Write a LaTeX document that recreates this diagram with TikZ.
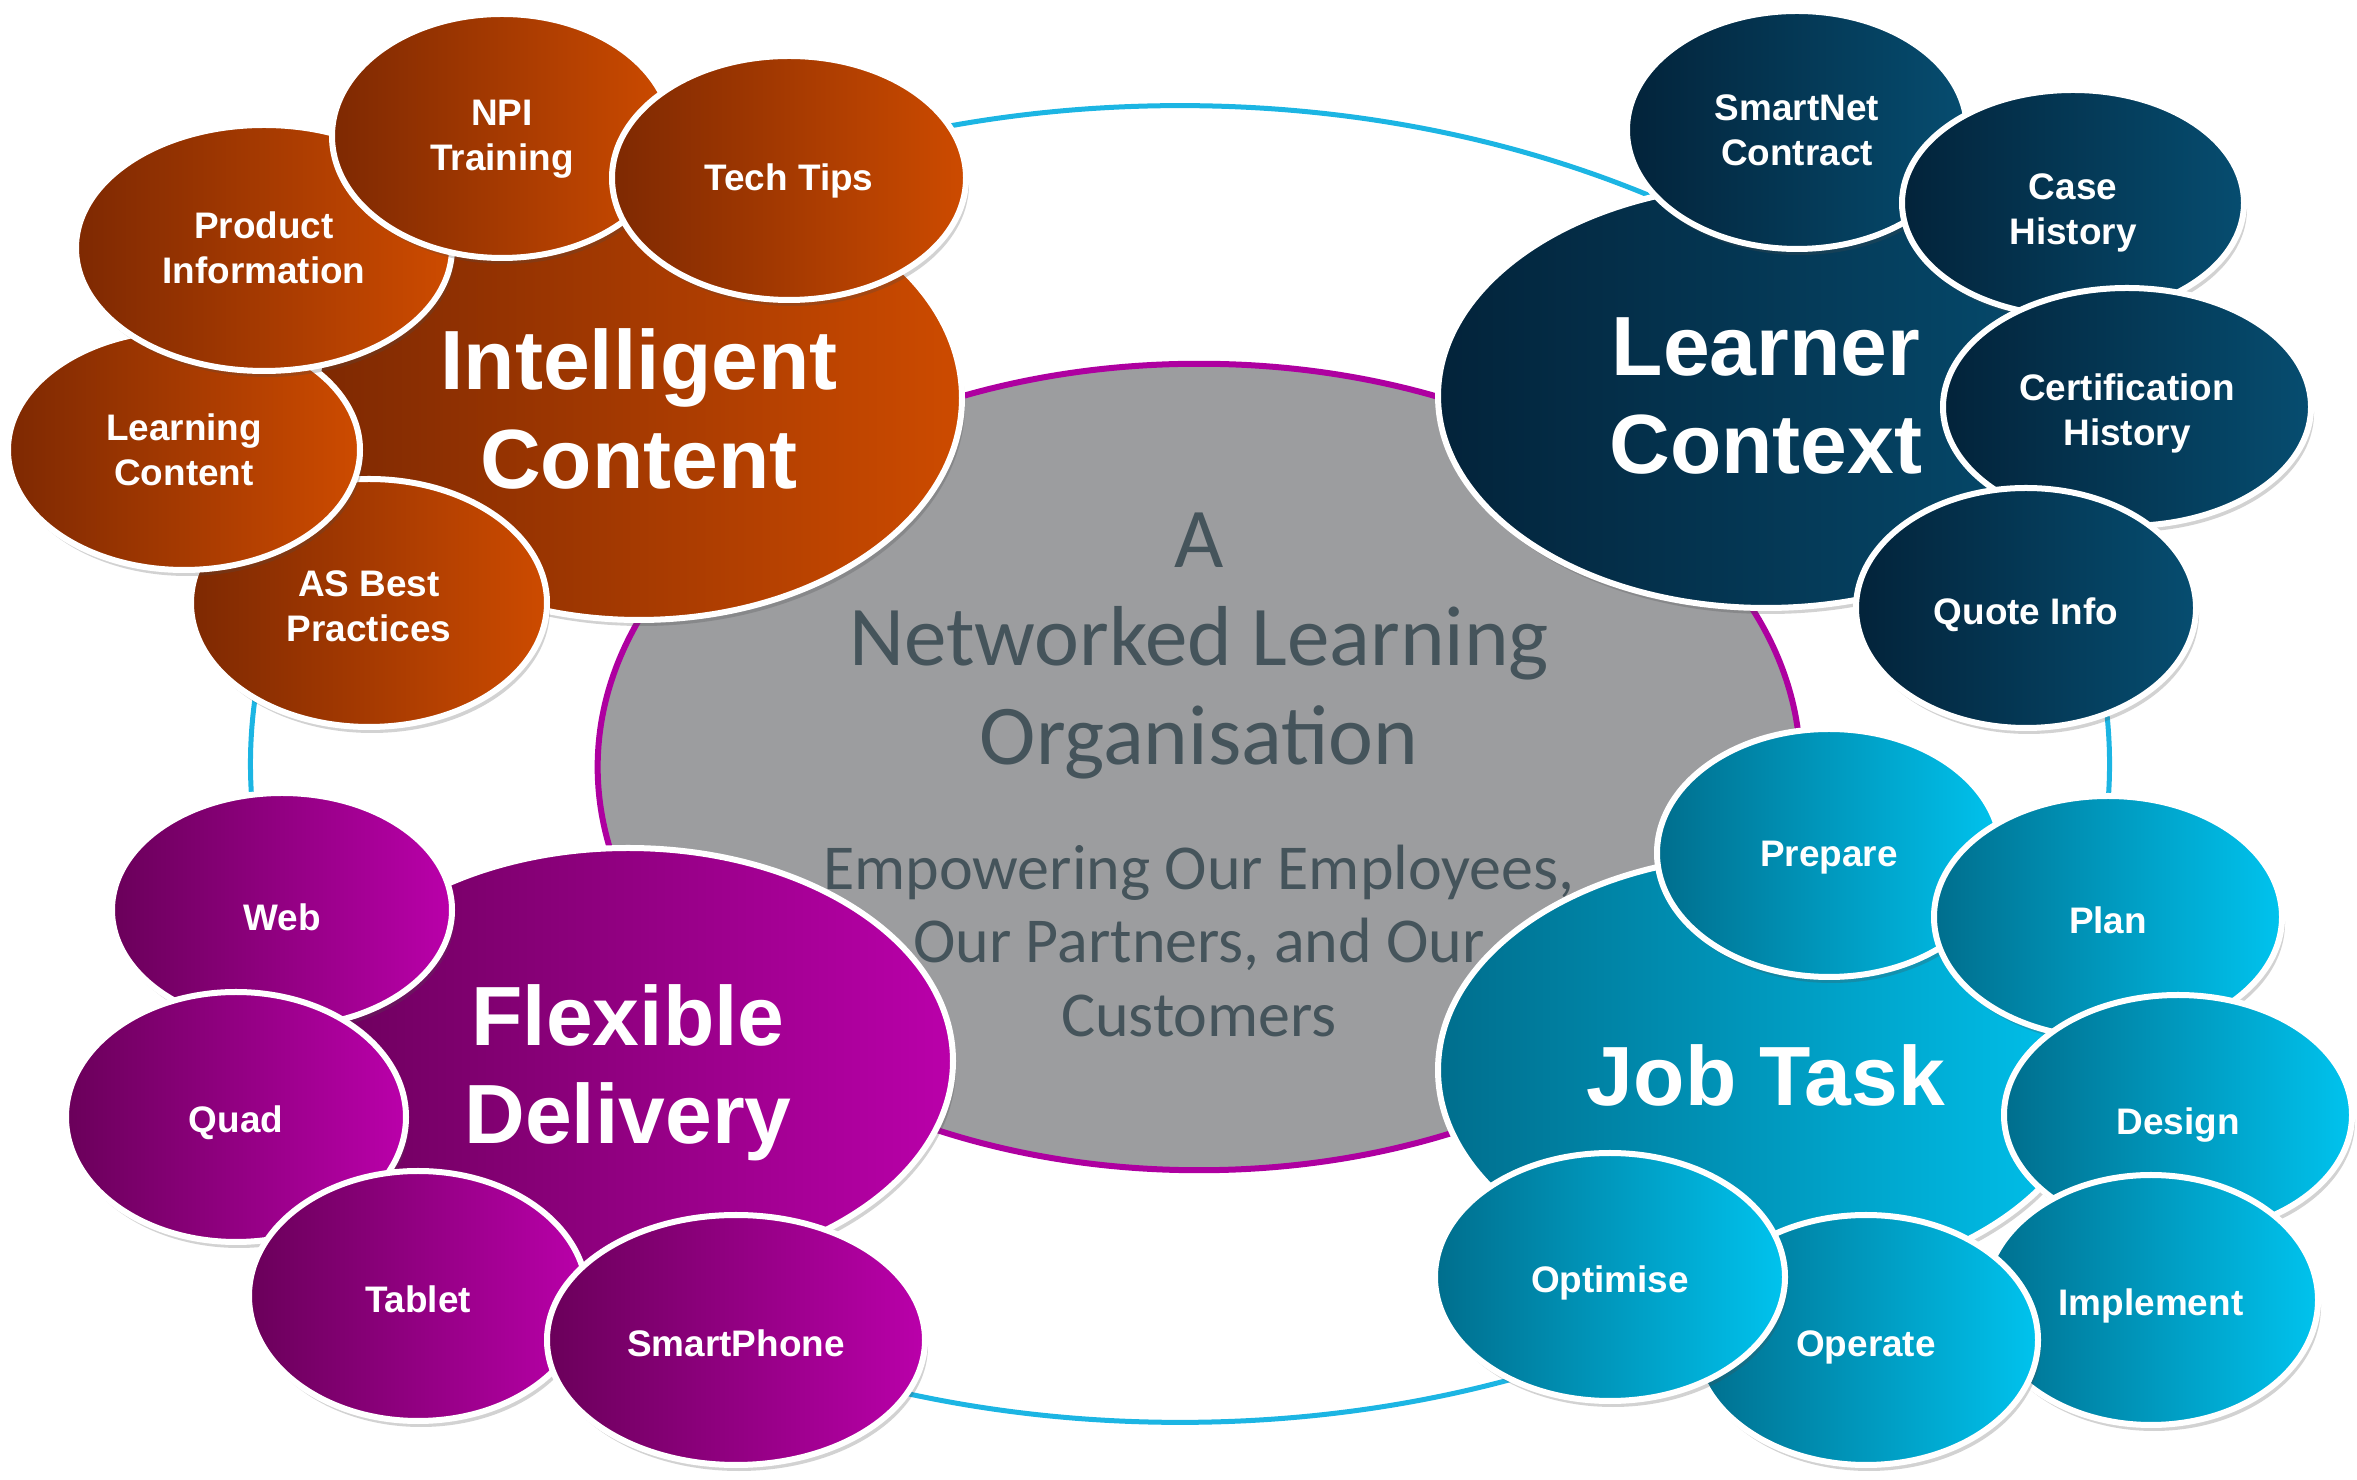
\documentclass[tikz,border=0pt]{standalone}
\usepackage{fontspec}
\usetikzlibrary{shapes.geometric,shadows}
\newfontfamily\bubfont{Liberation Sans}
\newfontfamily\hubfont{Carlito}

\definecolor{rustA}{HTML}{7E2902}
\definecolor{rustB}{HTML}{CD4B00}
\definecolor{navyA}{HTML}{03233A}
\definecolor{navyB}{HTML}{064D70}
\definecolor{plumA}{HTML}{6A005A}
\definecolor{plumB}{HTML}{BA00AA}
\definecolor{tealA}{HTML}{006E8D}
\definecolor{tealB}{HTML}{00C3EE}
\definecolor{ringblue}{HTML}{1CB5E3}
\definecolor{hubgray}{HTML}{9C9D9F}
\definecolor{hubedge}{HTML}{AE00A0}
\definecolor{hubtext}{HTML}{45545B}

\tikzset{
  bubble/.style={ellipse, draw=white, line width=0.06cm, inner sep=0pt,
    drop shadow={shadow xshift=0.03cm, shadow yshift=-0.06cm, opacity=0.25, fill=black!70}},
  bigtext/.style={text=white, align=center, font=\bubfont\bfseries\fontsize{23.9}{27.9}\selectfont},
  leaftext/.style={text=white, align=center, font=\bubfont\bfseries\fontsize{10.5}{12.8}\selectfont},
  ring/.style={ellipse, draw=ringblue, line width=0.05cm, inner sep=0pt},
  hub/.style={ellipse, fill=hubgray, draw=hubedge, line width=0.06cm, inner sep=0pt},
  hubtitle/.style={text=hubtext, align=center, font=\hubfont\fontsize{24.2}{27.9}\selectfont},
  hubsub/.style={text=hubtext, align=center, font=\hubfont\fontsize{18.2}{20.9}\selectfont}
}

\begin{document}
\begin{tikzpicture}[x=0.01cm,y=-0.01cm]
  \useasboundingbox (0,0) rectangle (2357,1480);
  \def \Groups{
    ic/639/398/646/444/rustA/rustB/11/Intelligent\\Content,
    lc/1766/396/656/424/navyA/navyB/0/Learner\\Context,
    fd/628/1061/650/426/plumA/plumB/12/Flexible\\Delivery,
    jt/1766/1070/656/430/tealA/tealB/5/Job Task}
  % leaves are listed bottom to top
  \def \Leaves{
    best/369/603/356/248/rustA/rustB/3/AS Best\\Practices,
    learn/184/450/352/240/rustA/rustB/0/Learning\\Content,
    prod/264/248/376/246/rustA/rustB/0/Product\\Information,
    npi/502/136/340/244/rustA/rustB/3/NPI\\Training,
    tips/789/178/354/244/rustA/rustB/3/Tech Tips,
    smart/1797/130/340/238/navyA/navyB/0/SmartNet\\Contract,
    case/2073/203/342/226/navyA/navyB/10/Case\\History,
    cert/2127/407/368/238/navyA/navyB/6/Certification\\History,
    quote/2026/608/340/240/navyA/navyB/7/Quote Info,
    web/282/910/340/234/plumA/plumB/7/Web,
    quad/236/1117/340/250/plumA/plumB/6/Quad,
    tablet/418/1296/338/250/plumA/plumB/3/Tablet,
    phone/736/1340/378/250/plumA/plumB/3/SmartPhone,
    prepare/1829/853/344/248/tealA/tealB/5/Prepare,
    plan/2108/917/348/242/tealA/tealB/3/Plan,
    design/2178/1115/348/240/tealA/tealB/10/Design,
    implement/2151/1300/334/250/tealA/tealB/6/Implement,
    operate/1866/1340/344/250/tealA/tealB/7/Operate,
    optimise/1610/1277/350/248/tealA/tealB/6/Optimise}
  \node[ring, minimum width=18.58cm, minimum height=13.16cm] (ring) at (1180,764) {};
  \node[hub, minimum width=12.02cm, minimum height=8.06cm] (hub) at (1199,767) {};
  \node[hubtitle] (title) at (1199,646) {A\\Networked Learning\\Organisation};
  \node[hubsub] (motto) at (1199,941) {Empowering Our Employees,\\Our Partners, and Our\\Customers};
  \foreach \id / \x / \y / \w / \h / \ca / \cb / \dy / \txt in \Groups{
    \node[bubble, left color=\ca, right color=\cb,
      minimum width=\w*0.01cm, minimum height=\h*0.01cm] (\id) at (\x,\y) {};
    \node[bigtext] (\id-text) at (\x,\y+\dy) {\txt};
  }
  \foreach \id / \x / \y / \w / \h / \ca / \cb / \dy / \txt in \Leaves{
    \node[bubble, left color=\ca, right color=\cb,
      minimum width=\w*0.01cm, minimum height=\h*0.01cm] (\id) at (\x,\y) {};
    \node[leaftext] (\id-text) at (\x,\y+\dy) {\txt};
  }
\end{tikzpicture}
\end{document}
